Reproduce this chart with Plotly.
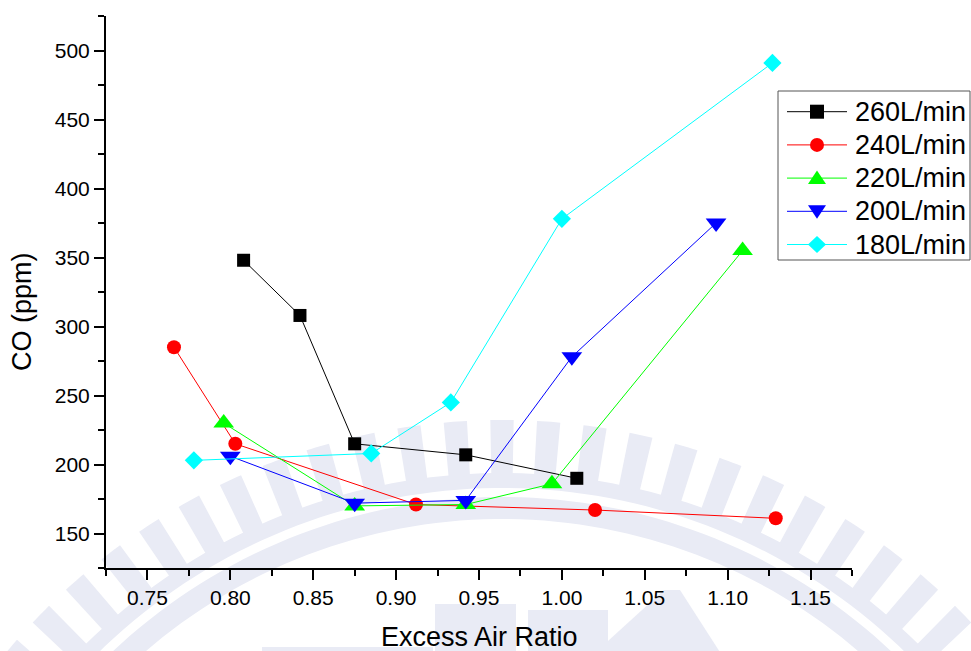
import numpy as np
import plotly.graph_objects as go

# ---------------- data ----------------
series_names = ["260L/min", "240L/min", "220L/min", "200L/min", "180L/min"]
x_260 = [0.808, 0.842, 0.875, 0.942, 1.009]
co_260 = [348, 308, 215, 207, 190]
x_240 = [0.766, 0.803, 0.912, 1.020, 1.129]
co_240 = [285, 215, 171, 167, 161]
x_220 = [0.796, 0.875, 0.942, 0.994, 1.109]
co_220 = [230, 170, 171, 186, 355]
x_200 = [0.800, 0.875, 0.942, 1.006, 1.093]
co_200 = [206, 172, 174, 278, 375]
x_180 = [0.778, 0.885, 0.933, 1.000, 1.127]
co_180 = [203, 208, 245, 378, 491]

xs = [x_260, x_240, x_220, x_200, x_180]
ys = [co_260, co_240, co_220, co_200, co_180]
colors = ["#000000", "#ff0000", "#00ff00", "#0000ff", "#00ffff"]
symbols = ["square", "circle", "triangle-up", "triangle-down", "diamond"]
msizes = [13, 14, 18, 18, 14]

FONT = "Arial, Liberation Sans, sans-serif"
W, H = 971, 651
L, R, T, B = 106, 119, 16, 83
PW, PH = W - L - R, H - T - B

fig = go.Figure()
for name, x, y, c, s, ms in zip(series_names, xs, ys, colors, symbols, msizes):
    fig.add_trace(go.Scatter(
        x=x, y=y, name=name, mode="lines+markers",
        line=dict(color=c, width=1),
        marker=dict(symbol=s, size=ms, color=c, line=dict(width=0)),
        showlegend=False,
    ))


def px2paper(px, py):
    return (px - L) / PW, (H - B - py) / PH


def path_from_pixels(pts, close=True):
    out = []
    for i, (px, py) in enumerate(pts):
        u, v = px2paper(px, py)
        out.append(("M" if i == 0 else "L") + f"{u:.5f},{v:.5f}")
    return " ".join(out) + (" Z" if close else "")


# ---------------- faint watermark (decoration) ----------------
WM = "#e9ebf5"
cx, cy = 502.0, 1065.0


def ring_pts(r1, r2, a0, a1, n=120):
    a = np.radians(np.linspace(a0, a1, n))
    outer = [(cx + r2 * np.cos(t), cy + r2 * np.sin(t)) for t in a]
    inner = [(cx + r1 * np.cos(t), cy + r1 * np.sin(t)) for t in a[::-1]]
    return outer + inner


wm_paths = []
wm_paths.append(path_from_pixels(ring_pts(577, 592, 195, 345)))
wm_paths.append(path_from_pixels(ring_pts(546, 568, 195, 345)))
period = 4.15
for k in range(-18, 19):
    mid = 270 + k * period
    wm_paths.append(path_from_pixels(ring_pts(590, 645, mid - period * 0.25, mid + period * 0.25, n=6)))
wm_paths.append(path_from_pixels([(435, 604), (516, 604), (516, 660), (435, 660)]))
wm_paths.append(path_from_pixels([(528, 610), (608, 610), (608, 660), (528, 660)]))
wm_paths.append(path_from_pixels([(262, 647), (433, 647), (433, 660), (262, 660)]))
wm_paths.append(path_from_pixels([(597, 651), (664, 590), (680, 590), (725, 660), (597, 660)]))
for p in wm_paths:
    fig.add_shape(type="path", path=p, xref="paper", yref="paper",
                  fillcolor=WM, line=dict(width=0), layer="below")

# ---------------- custom legend (box, line samples, symbols, labels) ----------------
LEG_X0, LEG_X1, LEG_Y0, LEG_Y1 = 778, 970, 91, 260
ROW0, ROW_STEP = 111.7, 33.2
LINE_X0, LINE_X1, SYM_X, TEXT_X = 787, 847, 817, 855

u0, v0 = px2paper(LEG_X0, LEG_Y1)
u1, v1 = px2paper(LEG_X1, LEG_Y0)
fig.add_shape(type="rect", xref="paper", yref="paper", x0=u0, y0=v0, x1=u1, y1=v1,
              fillcolor="white", line=dict(color="#555555", width=1), layer="above")

annotations = []
for i, (name, c, s) in enumerate(zip(series_names, colors, symbols)):
    yc = ROW0 + i * ROW_STEP
    a, b = px2paper(LINE_X0, yc)
    a2, _ = px2paper(LINE_X1, yc)
    fig.add_shape(type="line", xref="paper", yref="paper", x0=a, y0=b, x1=a2, y1=b,
                  line=dict(color=c, width=1), layer="above")
    if s == "circle":
        p0 = px2paper(SYM_X - 7, yc + 7)
        p1 = px2paper(SYM_X + 7, yc - 7)
        fig.add_shape(type="circle", xref="paper", yref="paper",
                      x0=p0[0], y0=p0[1], x1=p1[0], y1=p1[1],
                      fillcolor=c, line=dict(width=0), layer="above")
    else:
        if s == "square":
            pts = [(SYM_X - 7, yc - 7), (SYM_X + 7, yc - 7), (SYM_X + 7, yc + 7), (SYM_X - 7, yc + 7)]
        elif s == "triangle-up":
            pts = [(SYM_X, yc - 7.5), (SYM_X + 9, yc + 6), (SYM_X - 9, yc + 6)]
        elif s == "triangle-down":
            pts = [(SYM_X - 9, yc - 6), (SYM_X + 9, yc - 6), (SYM_X, yc + 7.5)]
        else:
            pts = [(SYM_X, yc - 8.5), (SYM_X + 9, yc), (SYM_X, yc + 8.5), (SYM_X - 9, yc)]
        fig.add_shape(type="path", xref="paper", yref="paper", path=path_from_pixels(pts),
                      fillcolor=c, line=dict(width=0), layer="above")
    tx, ty = px2paper(TEXT_X, yc)
    annotations.append(dict(text=name, xref="paper", yref="paper", x=tx, y=ty,
                            xanchor="left", yanchor="middle", showarrow=False,
                            xshift=-2, font=dict(family=FONT, size=27, color="black")))

annotations += [
    dict(text="Excess Air Ratio", xref="paper", yref="paper",
         x=0.5, y=(H - B - 637) / PH, xanchor="center", yanchor="middle",
         showarrow=False, font=dict(family=FONT, size=27, color="black")),
    dict(text="CO (ppm)", xref="paper", yref="paper",
         x=(22 - L) / PW, y=(H - B - 312) / PH, xanchor="center", yanchor="middle",
         textangle=-90, showarrow=False,
         font=dict(family=FONT, size=27, color="black")),
]

axis_common = dict(
    showline=True, linecolor="black", linewidth=2,
    ticks="outside", ticklen=10, tickwidth=2, tickcolor="black",
    showgrid=False, zeroline=False, mirror=False,
    tickfont=dict(family=FONT, size=21, color="black"),
)

fig.update_layout(
    width=W, height=H,
    margin=dict(l=L, r=R, t=T, b=B, autoexpand=False),
    paper_bgcolor="white", plot_bgcolor="rgba(0,0,0,0)",
    font=dict(family=FONT, color="black"),
    xaxis=dict(range=[0.725, 1.175], tick0=0.75, dtick=0.05, tickformat=".2f",
               minor=dict(dtick=0.025, tick0=0.725, ticklen=6, tickwidth=2,
                          tickcolor="black", ticks="outside"),
               **axis_common),
    yaxis=dict(range=[125, 525], tick0=0, dtick=50,
               minor=dict(dtick=25, tick0=125, ticklen=6, tickwidth=2,
                          tickcolor="black", ticks="outside"),
               **axis_common),
    showlegend=False,
    annotations=annotations,
)

fig.write_html("out.html")
